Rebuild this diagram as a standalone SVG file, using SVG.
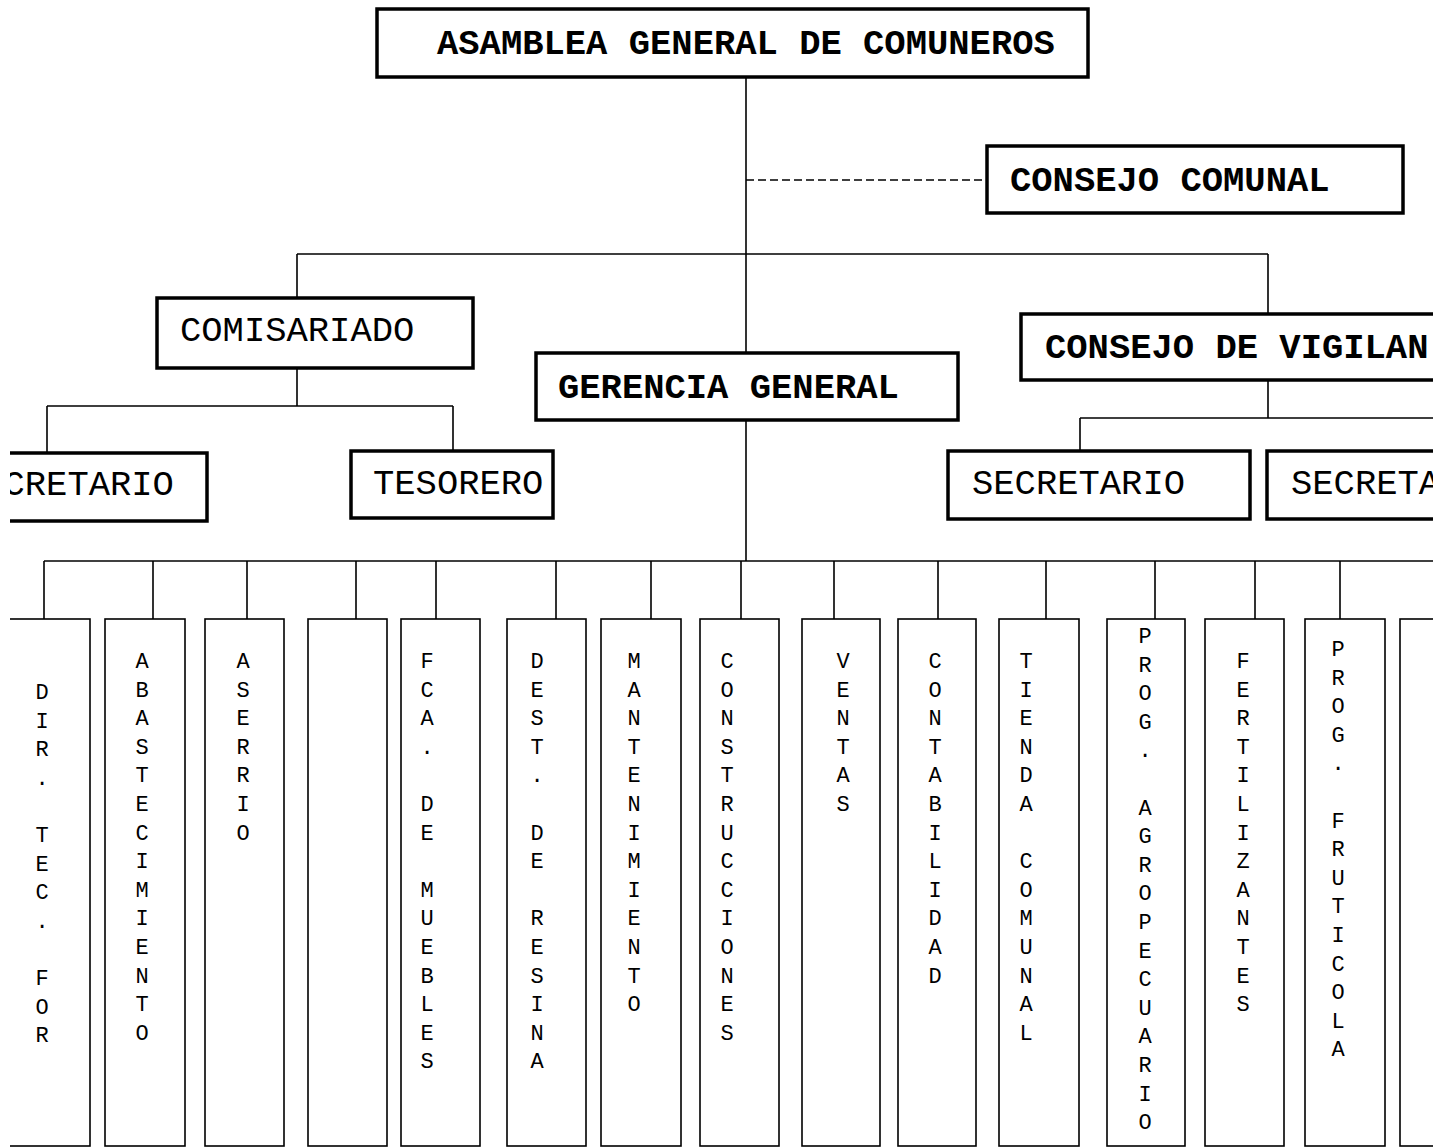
<svg xmlns="http://www.w3.org/2000/svg" width="1444" height="1148" viewBox="0 0 1444 1148">
<style>
.bg{fill:#fff}
.box{fill:#fff;stroke:#000;stroke-width:3.5}
.col{fill:#fff;stroke:#000;stroke-width:1.6}
.ln{fill:none;stroke:#000;stroke-width:1.6}
.dash{fill:none;stroke:#000;stroke-width:1.6;stroke-dasharray:8 4}
.hb{font-family:"Liberation Mono","Courier New",monospace;font-size:35.5px;font-weight:bold;fill:#000}
.hn{font-family:"Liberation Mono","Courier New",monospace;font-size:35.5px;fill:#000}
.v{font-family:"Liberation Mono","Courier New",monospace;font-size:22px;fill:#000;text-anchor:middle}
</style>
<defs>
<clipPath id="page"><rect x="10" y="0" width="1423" height="1148"/></clipPath>
</defs>
<rect class="bg" x="0" y="0" width="1444" height="1148"/>
<g clip-path="url(#page)">
<g id="connectors">
<path class="ln" d="M746 77V561"/>
<path class="dash" d="M746 180H985"/>
<path class="ln" d="M297 254H1268M297 254V298M1268 254V314"/>
<path class="ln" d="M297 368V406M47 406H453M47 406V453M453 406V451"/>
<path class="ln" d="M1268 380V418M1080 418H1440M1080 418V451"/>
<path class="ln" d="M44 561H1440"/>
<path class="ln" d="M44 561V619M153 561V619M247 561V619M356 561V619M436 561V619M556 561V619M651 561V619M741 561V619M834 561V619M938 561V619M1046 561V619M1155 561V619M1255 561V619M1340 561V619"/>
</g>
<g id="asamblea"><rect class="box" x="377" y="9" width="711" height="68"/><text class="hb" x="437" y="54">ASAMBLEA GENERAL DE COMUNEROS</text></g>
<g id="consejo-comunal"><rect class="box" x="987" y="146" width="416" height="67"/><text class="hb" x="1010" y="191">CONSEJO COMUNAL</text></g>
<g id="comisariado"><rect class="box" x="157" y="298" width="316" height="70"/><text class="hn" x="180" y="341">COMISARIADO</text></g>
<g id="gerencia"><rect class="box" x="536" y="353" width="422" height="67"/><text class="hb" x="558" y="398">GERENCIA GENERAL</text></g>
<g id="consejo-vigilancia"><rect class="box" x="1021" y="314" width="500" height="66"/><text class="hb" x="1045" y="358">CONSEJO DE VIGILAN</text></g>
<g id="secretario-com"><rect class="box" x="-50" y="453" width="257" height="68"/><text class="hn" x="3.5" y="495">CRETARIO</text></g>
<g id="tesorero"><rect class="box" x="351" y="451" width="202" height="67"/><text class="hn" x="373" y="494">TESORERO</text></g>
<g id="secretario-vig"><rect class="box" x="948" y="451" width="302" height="68"/><text class="hn" x="972" y="494">SECRETARIO</text></g>
<g id="secretario-vig2"><rect class="box" x="1267" y="451" width="250" height="68"/><text class="hn" x="1291" y="494">SECRETA</text></g>

<g id="col-dir"><rect class="col" x="-20" y="619" width="110" height="527"/>
<text class="v" x="42 42 42 42 42 42 42 42 42 42 42 42 42" y="699 727.6 756.2 784.8 813.4 842 870.6 899.2 927.8 956.4 985 1013.6 1042.2">DIR. TEC. FOR</text></g>
<g id="col-abast"><rect class="col" x="105" y="619" width="80" height="527"/>
<text class="v" x="142 142 142 142 142 142 142 142 142 142 142 142 142 142" y="668 696.6 725.2 753.8 782.4 811 839.6 868.2 896.8 925.4 954 982.6 1011.2 1039.8">ABASTECIMIENTO</text></g>
<g id="col-aserrio"><rect class="col" x="205" y="619" width="79" height="527"/>
<text class="v" x="243 243 243 243 243 243 243" y="668 696.6 725.2 753.8 782.4 811 839.6">ASERRIO</text></g>
<g id="col-empty1"><rect class="col" x="308" y="619" width="79" height="527"/></g>
<g id="col-fca"><rect class="col" x="401" y="619" width="79" height="527"/>
<text class="v" x="427 427 427 427 427 427 427 427 427 427 427 427 427 427 427" y="668 696.6 725.2 753.8 782.4 811 839.6 868.2 896.8 925.4 954 982.6 1011.2 1039.8 1068.4">FCA. DE MUEBLES</text></g>
<g id="col-dest"><rect class="col" x="507" y="619" width="79" height="527"/>
<text class="v" x="537 537 537 537 537 537 537 537 537 537 537 537 537 537 537" y="668 696.6 725.2 753.8 782.4 811 839.6 868.2 896.8 925.4 954 982.6 1011.2 1039.8 1068.4">DEST. DE RESINA</text></g>
<g id="col-mant"><rect class="col" x="601" y="619" width="80" height="527"/>
<text class="v" x="634 634 634 634 634 634 634 634 634 634 634 634 634" y="668 696.6 725.2 753.8 782.4 811 839.6 868.2 896.8 925.4 954 982.6 1011.2">MANTENIMIENTO</text></g>
<g id="col-const"><rect class="col" x="700" y="619" width="79" height="527"/>
<text class="v" x="727 727 727 727 727 727 727 727 727 727 727 727 727 727" y="668 696.6 725.2 753.8 782.4 811 839.6 868.2 896.8 925.4 954 982.6 1011.2 1039.8">CONSTRUCCIONES</text></g>
<g id="col-ventas"><rect class="col" x="802" y="619" width="78" height="527"/>
<text class="v" x="843 843 843 843 843 843" y="668 696.6 725.2 753.8 782.4 811">VENTAS</text></g>
<g id="col-contab"><rect class="col" x="898" y="619" width="78" height="527"/>
<text class="v" x="935 935 935 935 935 935 935 935 935 935 935 935" y="668 696.6 725.2 753.8 782.4 811 839.6 868.2 896.8 925.4 954 982.6">CONTABILIDAD</text></g>
<g id="col-tienda"><rect class="col" x="999" y="619" width="80" height="527"/>
<text class="v" x="1026 1026 1026 1026 1026 1026 1026 1026 1026 1026 1026 1026 1026 1026" y="668 696.6 725.2 753.8 782.4 811 839.6 868.2 896.8 925.4 954 982.6 1011.2 1039.8">TIENDA COMUNAL</text></g>
<g id="col-agro"><rect class="col" x="1107" y="619" width="78" height="527"/>
<text class="v" x="1145 1145 1145 1145 1145 1145 1145 1145 1145 1145 1145 1145 1145 1145 1145 1145 1145 1145" y="643 671.6 700.2 728.8 757.4 786 814.6 843.2 871.8 900.4 929 957.6 986.2 1014.8 1043.4 1072 1100.6 1129.2">PROG. AGROPECUARIO</text></g>
<g id="col-fert"><rect class="col" x="1205" y="619" width="79" height="527"/>
<text class="v" x="1243 1243 1243 1243 1243 1243 1243 1243 1243 1243 1243 1243 1243" y="668 696.6 725.2 753.8 782.4 811 839.6 868.2 896.8 925.4 954 982.6 1011.2">FERTILIZANTES</text></g>
<g id="col-frut"><rect class="col" x="1305" y="619" width="80" height="527"/>
<text class="v" x="1338 1338 1338 1338 1338 1338 1338 1338 1338 1338 1338 1338 1338 1338 1338" y="656 684.6 713.2 741.8 770.4 799 827.6 856.2 884.8 913.4 942 970.6 999.2 1027.8 1056.4">PROG. FRUTICOLA</text></g>
<g id="col-empty2"><rect class="col" x="1400" y="619" width="80" height="527"/></g>
</g>
</svg>
